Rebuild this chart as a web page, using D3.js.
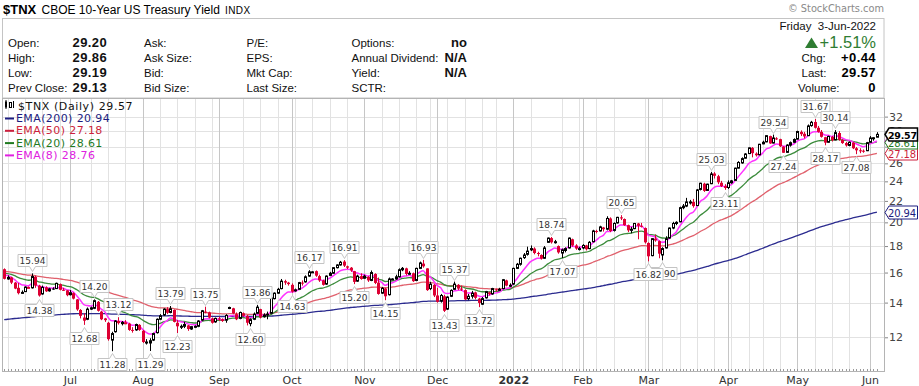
<!DOCTYPE html>
<html>
<head>
<meta charset="utf-8">
<script src="https://cdn.jsdelivr.net/npm/d3@7"></script>
<style>
body { margin: 0; background: #fff; }
svg { display: block; font-family: "Liberation Sans", Arial, sans-serif; }
</style>
</head>
<body>
<div id="chart"></div>
<script>
// trading days, one string of day numbers per month
const months = ["2021-06","2021-07","2021-08","2021-09","2021-10","2021-11","2021-12",
                "2022-01","2022-02","2022-03","2022-04","2022-05","2022-06"];
const monthDays = [
  "4 7 8 9 10 11 14 15 16 17 18 21 22 23 24 25 28 29 30",
  "1 2 6 7 8 9 12 13 14 15 16 19 20 21 22 23 26 27 28 29 30",
  "2 3 4 5 6 9 10 11 12 13 16 17 18 19 20 23 24 25 26 27 30 31",
  "1 2 3 7 8 9 10 13 14 15 16 17 20 21 22 23 24 27 28 29 30",
  "1 4 5 6 7 8 11 12 13 14 15 18 19 20 21 22 25 26 27 28 29",
  "1 2 3 4 5 8 9 10 11 12 15 16 17 18 19 22 23 24 26 29 30",
  "1 2 3 6 7 8 9 10 13 14 15 16 17 20 21 22 23 27 28 29 30 31",
  "3 4 5 6 7 10 11 12 13 14 18 19 20 21 24 25 26 27 28 31",
  "1 2 3 4 7 8 9 10 11 14 15 16 17 18 22 23 24 25 28",
  "1 2 3 4 7 8 9 10 11 14 15 16 17 18 21 22 23 24 25 28 29 30 31",
  "1 4 5 6 7 8 11 12 13 14 18 19 20 21 22 25 26 27 28 29",
  "2 3 4 5 6 9 10 11 12 13 16 17 18 19 20 23 24 25 26 27 31",
  "1 2 3"
];

// daily OHLC of $TNX (month by month)
const opens = [
  16.24,15.55,15.66,15.30,14.95,14.60,14.70,14.98,14.95,15.70,15.10,14.55,14.98,14.75,14.90,14.90,15.20,14.82,14.78,
  14.50,14.60,14.20,13.55,13.10,13.00,13.60,13.65,14.05,13.45,13.05,12.80,11.85,12.30,12.90,12.75,12.80,12.75,12.40,12.40,12.68,
  12.35,11.75,11.70,11.85,12.25,13.00,13.25,13.60,13.40,13.55,12.80,12.60,12.60,12.65,12.45,12.55,12.60,12.95,13.45,13.40,13.05,12.85,
  13.05,13.00,12.95,13.68,13.65,13.30,13.05,13.35,13.20,12.75,13.00,13.35,13.60,13.15,13.25,13.35,14.25,14.60,14.90,15.40,15.30,
  15.15,14.75,14.85,15.30,15.35,15.75,16.05,16.10,15.75,15.45,15.20,15.80,15.95,16.35,16.55,16.80,16.45,16.35,16.10,15.40,15.75,
  15.60,15.70,15.45,15.90,15.30,14.60,14.90,14.50,15.55,15.55,15.70,16.20,16.30,15.90,15.95,15.45,16.30,16.65,16.30,14.90,15.15,
  14.45,14.10,14.40,13.60,14.40,14.85,15.15,14.90,14.80,14.25,14.40,14.65,14.25,13.90,14.30,14.65,14.55,14.85,14.80,14.90,15.45,15.10,
  15.20,16.30,16.60,17.10,17.35,17.70,17.80,17.45,17.30,17.05,18.30,18.65,18.30,18.00,17.45,17.65,17.85,18.55,18.05,17.80,
  17.85,18.05,17.80,18.35,19.25,19.25,19.55,19.40,20.35,19.30,19.95,20.45,20.30,19.75,19.30,19.45,19.90,19.70,19.50,
  18.25,17.25,18.60,18.40,17.30,17.85,18.65,19.50,19.90,20.05,21.35,21.50,21.90,21.90,21.55,23.15,23.75,23.05,23.75,24.85,24.55,23.85,23.50,
  23.35,23.85,24.10,25.45,26.05,26.60,27.15,27.85,27.15,27.00,28.35,28.60,29.35,28.45,29.05,28.95,28.00,27.30,28.20,28.55,
  28.95,29.90,29.65,29.40,30.75,31.25,30.45,29.90,29.20,28.55,29.25,28.85,29.75,28.85,28.45,28.15,28.50,27.80,27.55,27.50,27.50,
  28.55,29.10,29.20
];
const highs = [
  16.30,15.80,15.70,15.34,15.28,14.78,15.05,15.04,15.94,15.78,15.15,15.10,15.05,14.95,14.98,15.30,15.24,14.95,14.80,
  14.80,14.65,14.22,13.60,13.35,13.70,13.75,14.20,14.10,13.50,13.08,12.85,12.30,12.95,13.12,12.90,12.95,12.80,12.55,12.75,12.72,
  12.40,11.90,11.95,12.25,13.05,13.30,13.65,13.72,13.79,13.58,12.95,12.70,12.85,12.68,12.62,12.65,12.95,13.55,13.75,13.45,13.10,13.10,
  13.15,13.05,13.30,13.75,13.68,13.40,13.45,13.40,13.25,13.05,13.40,13.86,13.62,13.35,13.45,14.35,14.65,14.95,15.55,15.50,15.35,
  15.25,14.90,15.35,15.45,15.80,16.17,16.10,16.15,15.85,15.50,15.80,16.05,16.40,16.60,16.85,16.91,16.50,16.40,16.12,15.85,15.95,
  15.85,15.75,16.15,15.95,15.65,15.00,14.95,15.65,15.60,15.85,16.30,16.40,16.35,16.10,16.00,16.35,16.80,16.93,16.30,15.35,15.20,
  14.95,14.55,14.50,14.40,14.85,15.37,15.20,15.10,14.85,14.55,14.75,14.70,14.30,14.35,14.75,14.70,14.95,14.90,14.95,15.55,15.50,15.25,
  16.35,16.70,17.10,17.45,17.95,18.05,17.90,17.55,17.35,18.00,18.70,18.74,18.50,18.05,17.80,17.90,18.70,18.60,18.15,17.95,
  18.15,18.10,18.40,19.35,19.35,19.70,19.60,20.55,20.45,20.00,20.50,20.65,20.35,19.80,19.60,19.95,19.95,19.95,19.55,
  18.30,18.65,18.95,18.45,17.90,18.80,19.55,20.05,20.10,21.45,21.70,22.30,22.10,22.20,23.20,23.85,23.85,23.75,25.03,25.00,24.70,24.05,23.70,
  24.10,24.15,25.50,26.25,26.70,27.20,27.90,27.95,27.30,28.35,28.75,29.45,29.40,29.54,29.20,29.00,28.05,28.30,28.65,29.05,
  30.05,30.10,29.90,30.90,31.40,31.67,30.70,30.15,29.25,29.40,29.35,30.14,30.00,28.95,28.60,28.65,28.55,27.95,27.80,27.65,28.60,
  29.35,29.20,29.86
];
const lows = [
  15.52,15.50,15.20,14.86,14.52,14.55,14.68,14.90,14.90,14.95,14.38,14.50,14.68,14.70,14.82,14.88,14.78,14.75,14.40,
  14.45,14.20,13.50,13.05,12.68,12.95,13.55,13.60,13.45,12.95,12.85,11.82,11.28,12.25,12.70,12.65,12.72,12.35,12.25,12.35,12.35,
  11.70,11.62,11.29,11.80,12.20,12.95,13.20,13.30,13.35,12.82,12.23,12.45,12.50,12.35,12.40,12.50,12.55,12.90,13.35,13.05,12.75,12.80,
  12.90,12.85,12.80,13.60,13.30,12.95,13.00,13.15,12.65,12.60,12.95,13.30,13.05,13.10,13.00,13.30,14.20,14.55,14.85,15.15,15.10,
  14.63,14.70,14.80,15.10,15.30,15.70,16.00,15.70,15.35,15.10,15.15,15.75,15.90,16.30,16.50,16.40,16.25,16.05,15.20,15.35,15.50,
  15.55,15.35,15.40,15.20,14.50,14.55,14.15,14.45,15.50,15.50,15.65,16.10,15.80,15.85,15.35,15.40,16.25,16.35,14.75,14.80,14.35,
  14.00,14.00,13.43,13.55,14.35,14.80,14.80,14.75,14.15,14.15,14.25,14.20,13.72,13.85,14.25,14.45,14.50,14.70,14.75,14.85,15.05,15.00,
  15.15,16.25,16.50,17.00,17.25,17.60,17.35,17.20,16.95,17.00,18.25,18.20,18.20,17.40,17.07,17.50,17.80,17.95,17.70,17.65,
  17.75,17.65,17.75,18.30,19.05,19.20,19.20,19.30,19.15,19.20,19.90,20.20,19.70,19.15,19.05,19.40,18.55,19.55,18.20,
  16.82,17.20,18.35,17.05,16.90,17.80,18.60,19.40,19.75,20.00,21.20,21.40,21.65,21.35,21.50,23.05,22.90,23.00,23.70,24.30,23.70,23.40,23.11,
  23.20,23.75,24.05,25.40,25.95,26.55,27.10,26.70,26.80,26.95,28.30,28.55,28.35,28.40,28.85,27.95,27.24,27.25,28.00,28.45,
  28.90,29.35,29.05,29.35,30.60,30.35,29.80,29.15,28.17,28.50,28.65,28.80,28.75,28.35,28.00,28.05,27.70,27.08,27.20,27.25,27.45,
  28.50,28.75,29.19
];
const closes = [
  15.56,15.66,15.30,14.90,14.60,14.65,15.00,14.98,15.72,15.10,14.45,14.98,14.72,14.88,14.88,15.25,14.82,14.80,14.47,
  14.63,14.25,13.58,13.20,12.92,13.60,13.68,14.12,13.50,13.00,12.95,11.90,12.20,12.90,12.78,12.82,12.80,12.40,12.35,12.70,12.40,
  11.75,11.75,11.82,12.20,13.00,13.20,13.60,13.38,13.62,12.85,12.60,12.60,12.70,12.45,12.58,12.60,12.90,13.50,13.42,13.10,12.80,13.05,
  13.00,12.90,13.22,13.70,13.35,13.00,13.40,13.20,12.80,12.98,13.30,13.72,13.10,13.25,13.30,14.30,14.60,14.85,15.40,15.30,15.20,
  14.70,14.82,15.30,15.25,15.70,16.05,16.05,15.78,15.45,15.15,15.75,15.95,16.35,16.55,16.75,16.50,16.35,16.15,15.35,15.75,15.55,
  15.75,15.45,16.00,15.28,14.55,14.92,14.40,15.55,15.55,15.70,16.20,16.30,15.90,15.95,15.40,16.30,16.70,16.45,14.80,15.20,14.45,
  14.05,14.45,13.50,14.35,14.78,15.20,14.90,14.85,14.20,14.40,14.60,14.30,13.98,14.25,14.70,14.55,14.90,14.80,14.85,15.50,15.10,15.12,
  16.30,16.60,17.05,17.30,17.60,17.80,17.45,17.40,17.02,17.85,18.65,18.30,18.35,17.50,17.70,17.80,18.65,18.05,17.80,17.80,
  18.05,17.75,18.30,19.25,19.20,19.60,19.40,20.35,19.25,19.90,20.45,20.35,19.75,19.30,19.40,19.90,19.70,19.65,18.30,
  17.20,18.60,18.45,17.40,17.80,18.60,19.50,19.90,20.00,21.35,21.50,21.90,21.90,21.50,23.10,23.80,23.00,23.70,24.80,24.60,23.90,23.50,23.30,
  23.85,24.05,25.45,26.10,26.55,27.10,27.85,27.20,26.95,28.30,28.55,29.40,28.40,29.10,29.00,28.05,27.25,28.20,28.50,28.90,
  29.95,29.60,29.30,30.70,31.20,30.45,29.90,29.25,28.50,29.30,28.80,29.80,28.85,28.45,28.15,28.55,27.80,27.55,27.45,27.40,28.50,
  29.10,29.13,29.57
];

// swing labels: bar index and whether the high or the low is marked
const swingIndex = [8,10,23,26,31,33,42,48,50,58,71,73,83,88,98,101,110,121,127,130,137,158,161,178,190,186,204,208,222,225,234,237,240,246];
const swingSide  = "HLLHLHLHLHLHLHHLLHLHLHLHLLHLHLHLHL";

// moving averages: period, value before the first bar, and the last values shown
const emaPeriods = [200, 50, 20, 8];
const emaSeeds   = [12.95, 16.1, 16.0, 15.9];
const emaLast    = ["20.94", "27.18", "28.61", "28.76"];
const emaColors  = ["#2b2b8f", "#e0606c", "#3c8c3c", "#ff33ff"];
const emaText    = ["#1c1c80", "#cc1f3c", "#1f7a1f", "#e020e0"];

const yTicks = [12, 14, 16, 18, 20, 22, 24, 26, 28, 30, 32];
const monthNames = ["Jul","Aug","Sep","Oct","Nov","Dec","2022","Feb","Mar","Apr","May","Jun"];

// header quote table
const quoteRows = [
  ["Open:", "29.20", "Ask:", "P/E:", "Options:", "no"],
  ["High:", "29.86", "Ask Size:", "EPS:", "Annual Dividend:", "N/A"],
  ["Low:", "29.19", "Bid:", "Mkt Cap:", "Yield:", "N/A"],
  ["Prev Close:", "29.13", "Bid Size:", "Last Size:", "SCTR:", ""]
];
const rightRows = [["Chg:", "+0.44"], ["Last:", "29.57"], ["Volume:", "0"]];

//constants
const width = 919, height = 386;
const plot = { left: 2, right: 885, top: 98, bottom: 371 };
const red = "#dd0033";

const dates = [];
months.forEach((m, k) => monthDays[k].split(" ").forEach(d =>
  dates.push(new Date(m + "-" + d.padStart(2, "0") + "T12:00:00"))));

const bars = dates.map((d, i) => ({
  i, date: d, o: opens[i], h: highs[i], l: lows[i], c: closes[i],
  prev: i ? closes[i - 1] : opens[i]
}));

function ema(period, seed) {
  const k = 2 / (period + 1);
  let e = seed;
  return closes.map(c => (e = e + k * (c - e)));
}
const emas = emaPeriods.map((p, k) => ema(p, emaSeeds[k]));

//SCALES
const x = d3.scaleLinear().domain([0, bars.length - 1]).range([4.2, 876.9]);
const y = d3.scaleLog().domain([10.33, 34.76]).range([plot.bottom, plot.top]);

const svg = d3.select("#chart").append("svg")
  .attr("width", width).attr("height", height);

svg.append("clipPath").attr("id", "plotclip").append("rect")
  .attr("x", plot.left).attr("y", plot.top)
  .attr("width", plot.right - plot.left).attr("height", plot.bottom - plot.top);

//header
svg.append("text").attr("x", 3).attr("y", 13.5)
  .attr("font-size", 13).attr("font-weight", "bold").text("$TNX");
svg.append("text").attr("x", 41.5).attr("y", 13.5)
  .attr("font-size", 12).text("CBOE 10-Year US Treasury Yield");
svg.append("text").attr("x", 225).attr("y", 13.5)
  .attr("font-size", 10).attr("letter-spacing", 0.4).text("INDX");
svg.append("text").attr("x", 884).attr("y", 11.5).attr("text-anchor", "end")
  .attr("font-family", "DejaVu Sans").attr("font-size", 9.8).attr("fill", "#8a8a8a")
  .text("© StockCharts.com");

svg.append("rect").attr("x", 2.5).attr("y", 18.5).attr("width", 881.5).attr("height", 79.5)
  .attr("fill", "none").attr("stroke", "#c4c4c4");

const rowY = [46.5, 61.8, 77, 92.2];
const colX = [8, 144, 246.5, 351.5];
quoteRows.forEach((r, k) => {
  const t = svg.append("g").attr("font-size", 11.5).attr("fill", "#111");
  t.append("text").attr("x", colX[0]).attr("y", rowY[k]).text(r[0]);
  t.append("text").attr("x", 72.5).attr("y", rowY[k]).attr("font-size", 13)
    .attr("font-weight", "bold").attr("letter-spacing", 0.4).text(r[1]);
  t.append("text").attr("x", colX[1]).attr("y", rowY[k]).text(r[2]);
  t.append("text").attr("x", colX[2]).attr("y", rowY[k]).text(r[3]);
  t.append("text").attr("x", colX[3]).attr("y", rowY[k]).text(r[4]);
  t.append("text").attr("x", 467).attr("y", rowY[k]).attr("text-anchor", "end")
    .attr("font-size", 13).attr("font-weight", "bold").text(r[5]);
});

svg.append("text").attr("x", 876).attr("y", 29.5).attr("text-anchor", "end")
  .attr("font-size", 11.5).attr("fill", "#111").attr("xml:space", "preserve")
  .text("Friday  3-Jun-2022");
svg.append("path").attr("d", "M805,48 L811.5,37.5 L818,48 Z").attr("fill", "#2f7d32");
svg.append("text").attr("x", 876).attr("y", 48).attr("text-anchor", "end")
  .attr("font-size", 16.5).attr("fill", "#2f7d32").text("+1.51%");
rightRows.forEach((r, k) => {
  svg.append("text").attr("x", k == 2 ? 798 : 801.5).attr("y", rowY[k + 1])
    .attr("font-size", 11.5).attr("fill", "#111").text(r[0]);
  svg.append("text").attr("x", 876).attr("y", rowY[k + 1]).attr("text-anchor", "end")
    .attr("font-size", 13).attr("font-weight", "bold").attr("letter-spacing", 0.4).text(r[1]);
});

//grid
const grid = svg.append("g");
grid.selectAll("line.h").data(yTicks).join("line").attr("class", "h")
  .attr("x1", plot.left).attr("x2", plot.right)
  .attr("y1", d => Math.round(y(d)) + 0.5).attr("y2", d => Math.round(y(d)) + 0.5)
  .attr("stroke", "#e2e2e2");
const monthStarts = bars.filter(b => b.i > 0 && b.date.getMonth() != bars[b.i - 1].date.getMonth()).map(b => b.i);
const weekStarts = bars.filter(b => b.date.getDay() == 1 && !monthStarts.includes(b.i)).map(b => b.i);
grid.selectAll("line.w").data(weekStarts).join("line").attr("class", "w")
  .attr("x1", d => Math.round(x(d)) + 0.5).attr("x2", d => Math.round(x(d)) + 0.5)
  .attr("y1", plot.top).attr("y2", plot.bottom).attr("stroke", "#e2e2e2");
grid.selectAll("line.m").data(monthStarts).join("line").attr("class", "m")
  .attr("x1", d => Math.round(x(d)) + 0.5).attr("x2", d => Math.round(x(d)) + 0.5)
  .attr("y1", plot.top).attr("y2", plot.bottom).attr("stroke", "#c6c6c6");

//day ticks along the bottom
svg.append("g").selectAll("line").data(bars).join("line")
  .attr("x1", d => Math.round(x(d.i)) + 0.5).attr("x2", d => Math.round(x(d.i)) + 0.5)
  .attr("y1", plot.bottom - 2).attr("y2", plot.bottom).attr("stroke", "#9a9a9a");

//frame
svg.append("rect").attr("x", plot.left + 0.5).attr("y", plot.top + 0.5)
  .attr("width", plot.right - plot.left - 1).attr("height", plot.bottom - plot.top)
  .attr("fill", "none").attr("stroke", "#b4b4b4");

const inner = svg.append("g").attr("clip-path", "url(#plotclip)");

//moving averages
const line = d3.line().x((d, i) => x(i)).y(d => y(d)).curve(d3.curveMonotoneX);
inner.selectAll("path.ema").data(emas).join("path").attr("class", "ema")
  .attr("d", line).attr("fill", "none")
  .attr("stroke", (d, k) => emaColors[k])
  .attr("stroke-width", (d, k) => k == 3 ? 1.5 : 1.3);

//candles
const candle = inner.selectAll("g.bar").data(bars).join("g").attr("class", "bar");
const col = d => d.c >= d.prev ? "#000" : red;
candle.append("line")
  .attr("x1", d => Math.round(x(d.i)) + 0.5).attr("x2", d => Math.round(x(d.i)) + 0.5)
  .attr("y1", d => y(d.h)).attr("y2", d => y(d.l)).attr("stroke", col);
candle.append("rect")
  .attr("x", d => d.c < d.o ? Math.round(x(d.i)) - 1 : Math.round(x(d.i)) - 0.5)
  .attr("width", d => d.c < d.o ? 3 : 2)
  .attr("y", d => y(Math.max(d.o, d.c)))
  .attr("height", d => Math.max(1, y(Math.min(d.o, d.c)) - y(Math.max(d.o, d.c))))
  .attr("fill", d => d.c < d.o ? col(d) : "#fff")
  .attr("stroke", d => d.c < d.o ? "none" : col(d));

//swing labels
const swings = swingIndex.map((i, k) => ({ i, hi: swingSide[k] == "H", v: swingSide[k] == "H" ? highs[i] : lows[i] }));
const tag = inner.selectAll("g.swing").data(swings).join("g").attr("class", "swing");
tag.append("path").attr("d", d => {
  const cx = Math.round(x(d.i)) + 0.5, w = 29, h = 12;
  const tip = d.hi ? Math.round(y(d.v)) - 1.5 : Math.round(y(d.v)) + 2.5;
  const cy = d.hi ? tip - 11 : tip + 11;
  const l = cx - w / 2, r = cx + w / 2, t = cy - h / 2, b = cy + h / 2;
  return d.hi
    ? `M${l},${t}H${r}V${b}H${cx + 3}L${cx},${tip}L${cx - 3},${b}H${l}Z`
    : `M${l},${t}H${cx - 3}L${cx},${tip}L${cx + 3},${t}H${r}V${b}H${l}Z`;
}).attr("fill", "#fff").attr("stroke", "#c4c4c4");
tag.append("text")
  .attr("x", d => Math.round(x(d.i)) + 0.5)
  .attr("y", d => d.hi ? Math.round(y(d.v)) - 12.5 + 3.5 : Math.round(y(d.v)) + 13.5 + 3.5)
  .attr("text-anchor", "middle").attr("font-family", "DejaVu Sans").attr("font-size", 9)
  .attr("fill", "#333").text(d => d.v.toFixed(2));

//right axis
const yAxis = svg.append("g").attr("transform", `translate(${plot.right},0)`)
  .call(d3.axisRight(y).tickValues(yTicks).tickFormat(d3.format("d")).tickSize(3).tickPadding(1));
yAxis.select(".domain").remove();
yAxis.selectAll("text").attr("font-family", "DejaVu Sans").attr("font-size", 11).attr("fill", "#444");
yAxis.selectAll("line").attr("stroke", "#888");

//month axis
const xAxis = svg.append("g").attr("transform", `translate(0,${plot.bottom})`)
  .call(d3.axisBottom(x).tickValues(monthStarts).tickFormat((d, k) => monthNames[k]).tickSize(0).tickPadding(5));
xAxis.select(".domain").remove();
xAxis.selectAll("text").attr("font-family", "DejaVu Sans").attr("font-size", 11).attr("fill", "#333")
  .attr("font-weight", (d, k) => monthNames[k] == "2022" ? "bold" : "normal");

//price tags on the right edge
const tags = [
  { v: +emaLast[0], t: emaLast[0], c: emaText[0] },
  { v: +emaLast[1], t: emaLast[1], c: emaText[1] },
  { v: +emaLast[3], t: emaLast[3], c: emaText[3] },
  { v: +emaLast[2], t: emaLast[2], c: emaText[2] },
  { v: closes[closes.length - 1], t: closes[closes.length - 1].toFixed(2), c: "#000", bold: true }
];
const pt = svg.selectAll("g.ptag").data(tags).join("g").attr("class", "ptag");
pt.append("path").attr("d", d => {
  const c = Math.round(y(d.v)) + 0.5;
  return `M${plot.right},${c}L${plot.right + 4},${c - 6.5}H917.5V${c + 6.5}H${plot.right + 4}Z`;
}).attr("fill", "#fff").attr("stroke", d => d.c).attr("stroke-width", d => d.bold ? 1.5 : 1);
pt.append("text").attr("x", 888).attr("y", d => Math.round(y(d.v)) + 4.5)
  .attr("font-family", "DejaVu Sans")
  .attr("font-size", d => d.bold ? 9.5 : 10)
  .attr("letter-spacing", d => d.bold ? -0.25 : -0.1)
  .attr("font-weight", d => d.bold ? "bold" : "normal").attr("fill", d => d.c).text(d => d.t);

//legend
const leg = svg.append("g").attr("font-family", "DejaVu Sans").attr("font-size", 11);
leg.append("rect").attr("x", 5).attr("y", 101.5).attr("width", 2).attr("height", 6).attr("fill", "#000");
leg.append("line").attr("x1", 6).attr("x2", 6).attr("y1", 100).attr("y2", 109).attr("stroke", "#000");
leg.append("rect").attr("x", 9.5).attr("y", 102.5).attr("width", 2).attr("height", 5).attr("fill", "#fff").attr("stroke", "#000");
leg.append("line").attr("x1", 13.5).attr("x2", 13.5).attr("y1", 101).attr("y2", 108).attr("stroke", "#000");
leg.append("text").attr("x", 18).attr("y", 109.5).attr("fill", "#111").attr("letter-spacing", 0.6)
  .text("$TNX (Daily) " + closes[closes.length - 1].toFixed(2));
emaPeriods.forEach((p, k) => {
  const yy = 122 + k * 12.3;
  leg.append("line").attr("x1", 5).attr("x2", 14).attr("y1", yy - 3.5).attr("y2", yy - 3.5)
    .attr("stroke", emaText[k]).attr("stroke-width", 2);
  leg.append("text").attr("x", 16).attr("y", yy).attr("fill", emaText[k]).attr("letter-spacing", 0.4)
    .text(`EMA(${p}) ${emaLast[k]}`);
});
</script>
</body>
</html>
